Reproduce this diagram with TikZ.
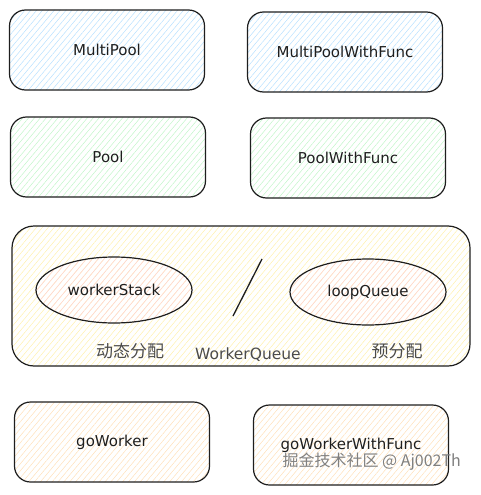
\documentclass[tikz,border=0pt]{standalone}
\usepackage{fontspec}
\setmainfont{DejaVu Sans}
\newfontfamily\cjk{Noto Sans CJK SC}
\usepackage{tikz}
\usetikzlibrary{positioning, patterns.meta, shapes.geometric}
\usepackage{xcolor}

\definecolor{inkc}{HTML}{1E1E1E}
\definecolor{bluec}{HTML}{A5D8FF}
\definecolor{greenc}{HTML}{B2F2BB}
\definecolor{yellowc}{HTML}{FFEC99}
\definecolor{pinkc}{HTML}{FFC9C9}
\definecolor{orangec}{HTML}{FFD8A8}

\begin{document}
\begin{tikzpicture}[x=1pt, y=-1pt,
        hatch/.style={fill=#1!25, pattern={Lines[angle=50, distance=4.5pt, line width=0.5pt]}, pattern color=#1!80},
        block/.style={rectangle, rounded corners=16pt, draw=inkc, line width=1.2pt, minimum width=195pt, minimum height=80pt, align=center, font=\fontsize{15}{17}\selectfont, text=inkc},
        group/.style={rectangle, rounded corners=22pt, draw=inkc, line width=1.2pt, minimum width=458pt, minimum height=140pt, hatch=yellowc},
        blob/.style={ellipse, draw=inkc, line width=1.2pt, minimum width=156pt, minimum height=66pt, font=\fontsize{15}{17}\selectfont, text=inkc, hatch=pinkc},
        note/.style={font=\fontsize{15.5}{18}\selectfont, text=inkc!80}
    ]
        \useasboundingbox (0,0) rectangle (480,495);

        % Multi pools
        \node[block, hatch=bluec] (multipool) at (107,50) {MultiPool};
        \node[block, hatch=bluec] (multipoolfunc) at (345,52) {MultiPoolWithFunc};

        % Pools
        \node[block, hatch=greenc] (pool) at (108,157) {Pool};
        \node[block, hatch=greenc] (poolfunc) at (348,158) {PoolWithFunc};

        % Worker queue
        \node[group] (queue) at (241,296) {};
        \node[blob] (stack) at (114,290) {workerStack};
        \node[blob] (loop) at (368,292) {loopQueue};
        \coordinate (slashtop) at (262,259);
        \coordinate (slashbot) at (233,316);
        \draw[inkc, line width=1.3pt] (slashtop) -- (slashbot);
        \node[note, font=\cjk\fontsize{17}{19}\selectfont] (dyn) at (130,351) {动态分配};
        \node[note] (wq) at (248,355) {WorkerQueue};
        \node[note, font=\cjk\fontsize{17}{19}\selectfont] (pre) at (397,351) {预分配};

        % Workers
        \node[block, hatch=orangec] (goworker) at (112,442) {goWorker};
        \node[block, hatch=orangec] (goworkerfunc) at (351,445) {goWorkerWithFunc};

        % Watermark
        \node[text=gray, font=\cjk\fontsize{16}{18}\selectfont, anchor=west] (mark) at (279,462) {掘金技术社区 @ Aj002Th};
    \end{tikzpicture}
\end{document}
